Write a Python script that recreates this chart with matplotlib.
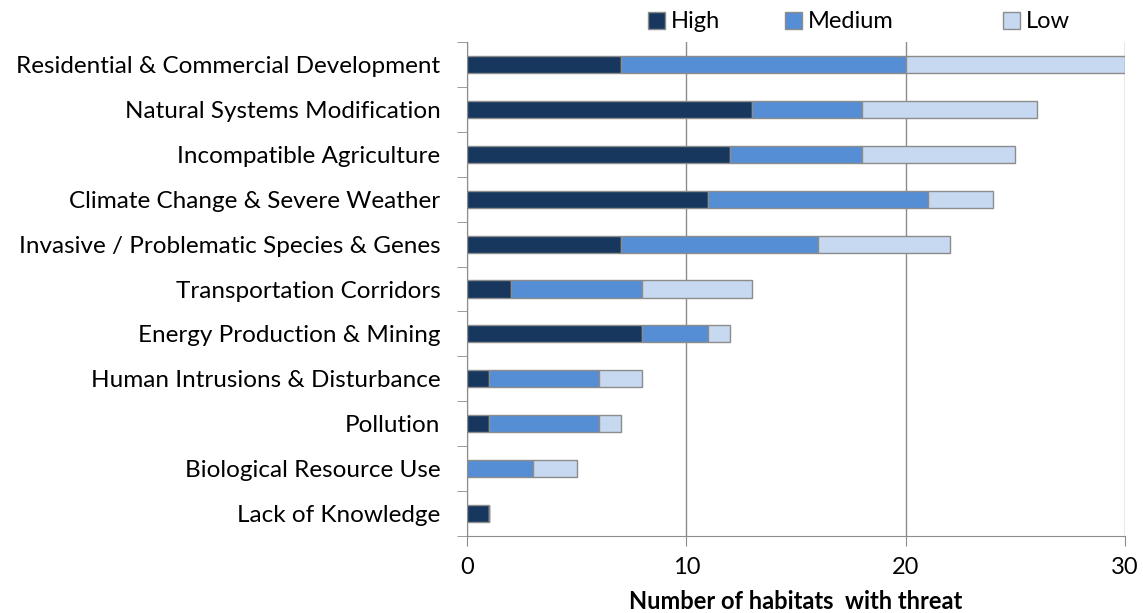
import numpy as np
import matplotlib.pyplot as plt
from matplotlib.patches import Patch

plt.rcParams['font.family'] = ['Lato', 'DejaVu Sans']

threats = ['Residential & Commercial Development', 'Natural Systems Modification',
           'Incompatible Agriculture', 'Climate Change & Severe Weather',
           'Invasive / Problematic Species & Genes', 'Transportation Corridors',
           'Energy Production & Mining', 'Human Intrusions & Disturbance',
           'Pollution', 'Biological Resource Use', 'Lack of Knowledge']
high = [7, 13, 12, 11, 7, 2, 8, 1, 1, 0, 1]
medium = [13, 5, 6, 10, 9, 6, 3, 5, 5, 3, 0]
low = [10, 8, 7, 3, 6, 5, 1, 2, 1, 2, 0]
levels = ['High', 'Medium', 'Low']

colors = ['#17375E', '#558ED5', '#C6D9F1']
edge = '#8C8C8C'

fig = plt.figure(figsize=(11.43, 6.13), dpi=100)
ax = fig.add_axes([467 / 1143, 1 - 536 / 613, (1125 - 467) / 1143, (536 - 42) / 613])

y = np.arange(len(threats))[::-1]
h = np.array(high)
m = np.array(medium)
l = np.array(low)
kw = dict(height=0.38, edgecolor=edge, linewidth=1.0, zorder=3)
ax.barh(y, h, color=colors[0], **kw)
ax.barh(y, m, left=h, color=colors[1], **kw)
ax.barh(y, l, left=h + m, color=colors[2], **kw)

ax.set_xlim(0, 30)
ax.set_ylim(-0.5, len(threats) - 0.5)
ax.set_xticks([0, 10, 20, 30])
ax.set_yticks(y)
ax.set_yticklabels(threats, fontsize=17.5)
ax.set_yticks(np.arange(-0.5, len(threats), 1), minor=True)
ax.tick_params(axis='y', which='major', length=0, pad=19)
ax.tick_params(axis='y', which='minor', length=7, color=edge, direction='out')
ax.tick_params(axis='x', length=7, color=edge, labelsize=17, pad=8)
ax.grid(axis='x', color=edge, linewidth=1, zorder=0)
for s in ['top', 'right']:
    ax.spines[s].set_visible(False)
for s in ['left', 'bottom']:
    ax.spines[s].set_color(edge)

ax.set_xlabel('Number of habitats  with threat', fontsize=17, fontweight='bold', labelpad=9)

# legend entries placed individually (Excel spreads them unevenly)
legend_x = [648, 785, 1003]
for lx, name, c in zip(legend_x, levels, colors):
    fig.legend(handles=[Patch(facecolor=c, edgecolor=edge, label=name)],
               loc='center left', bbox_to_anchor=(lx / 1143, 1 - 22 / 613),
               frameon=False, fontsize=17, handlelength=0.7, handleheight=0.7,
               handletextpad=0.25, borderpad=0, borderaxespad=0)

fig.savefig('out.png')
